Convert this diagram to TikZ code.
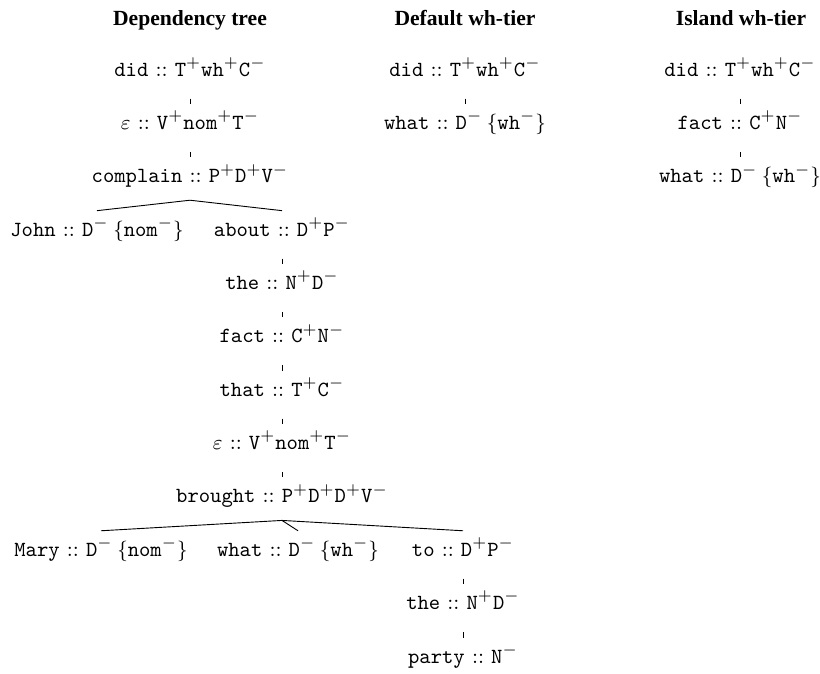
\documentclass[tikz,border=0pt]{standalone}
\usepackage{fontspec}
\newfontfamily\titlefont{Liberation Serif}
\newcommand{\featp}[1]{\texttt{#1}$^{+}$}
\newcommand{\featm}[1]{\texttt{#1}$^{-}$}
\newcommand{\lexitem}[2]{\texttt{#1}~::~#2}
\newcommand{\licset}[1]{\hspace{2pt}$\{$\featm{#1}$\}$}
\begin{document}
\begin{tikzpicture}[x=0.44pt,y=-0.44pt,
  lex/.style={anchor=base, inner xsep=0pt, inner ysep=0pt, text height=11pt, text depth=7.5pt, font=\fontsize{9.5}{11.5}\selectfont},
  ttl/.style={anchor=base, inner sep=0pt, font=\titlefont\bfseries\fontsize{9.5}{11}\selectfont},
  branch/.style={draw, line width=0.4pt},
  tick/.style={branch, line width=0.35pt, shorten <=2.2pt}]
\useasboundingbox (0,0) rectangle (820,673);
% titles
\node[ttl] (t1) at (190,25) {Dependency tree};
\node[ttl] (t2) at (465,25) {Default wh-tier};
\node[ttl] (t3) at (741,25) {Island wh-tier};
% dependency tree
\node[lex] (did) at (190,76) {\lexitem{did}{\featp{T}\featp{wh}\featm{C}}};
\node[lex] (epsa) at (190,129.4) {$\varepsilon$~::~\featp{V}\featp{nom}\featm{T}};
\node[lex] (complain) at (190,182.7) {\lexitem{complain}{\featp{P}\featp{D}\featm{V}}};
\node[lex] (john) at (97,236.1) {\lexitem{John}{\featm{D}\licset{nom}}};
\node[lex] (about) at (282,236.1) {\lexitem{about}{\featp{D}\featm{P}}};
\node[lex] (thea) at (282,289.4) {\lexitem{the}{\featp{N}\featm{D}}};
\node[lex] (facta) at (282,342.8) {\lexitem{fact}{\featp{C}\featm{N}}};
\node[lex] (that) at (282,396.2) {\lexitem{that}{\featp{T}\featm{C}}};
\node[lex] (epsb) at (282,449.5) {$\varepsilon$~::~\featp{V}\featp{nom}\featm{T}};
\node[lex] (brought) at (282,502.9) {\lexitem{brought}{\featp{P}\featp{D}\featp{D}\featm{V}}};
\node[lex] (mary) at (101,556.2) {\lexitem{Mary}{\featm{D}\licset{nom}}};
\node[lex] (whata) at (298,556.2) {\lexitem{what}{\featm{D}\licset{wh}}};
\node[lex] (to) at (463,556.2) {\lexitem{to}{\featp{D}\featm{P}}};
\node[lex] (theb) at (463,609.6) {\lexitem{the}{\featp{N}\featm{D}}};
\node[lex] (party) at (463,663) {\lexitem{party}{\featm{N}}};
% default tier
\node[lex] (didb) at (465,76) {\lexitem{did}{\featp{T}\featp{wh}\featm{C}}};
\node[lex] (whatb) at (465,129.4) {\lexitem{what}{\featm{D}\licset{wh}}};
% island tier
\node[lex] (didc) at (740,76) {\lexitem{did}{\featp{T}\featp{wh}\featm{C}}};
\node[lex] (factc) at (740,129.4) {\lexitem{fact}{\featp{C}\featm{N}}};
\node[lex] (whatc) at (740,182.7) {\lexitem{what}{\featm{D}\licset{wh}}};
% edges
\draw[tick] (did.south) -- (epsa.north);
\draw[tick] (epsa.south) -- (complain.north);
\draw[branch] (complain.south) -- (john.north);
\draw[branch] (complain.south) -- (about.north);
\draw[tick] (about.south) -- (thea.north);
\draw[tick] (thea.south) -- (facta.north);
\draw[tick] (facta.south) -- (that.north);
\draw[tick] (that.south) -- (epsb.north);
\draw[tick] (epsb.south) -- (brought.north);
\draw[branch] (brought.south) -- (mary.north);
\draw[branch] (brought.south) -- (whata.north);
\draw[branch] (brought.south) -- (to.north);
\draw[tick] (to.south) -- (theb.north);
\draw[tick] (theb.south) -- (party.north);
\draw[tick] (didb.south) -- (whatb.north);
\draw[tick] (didc.south) -- (factc.north);
\draw[tick] (factc.south) -- (whatc.north);
\end{tikzpicture}
\end{document}
